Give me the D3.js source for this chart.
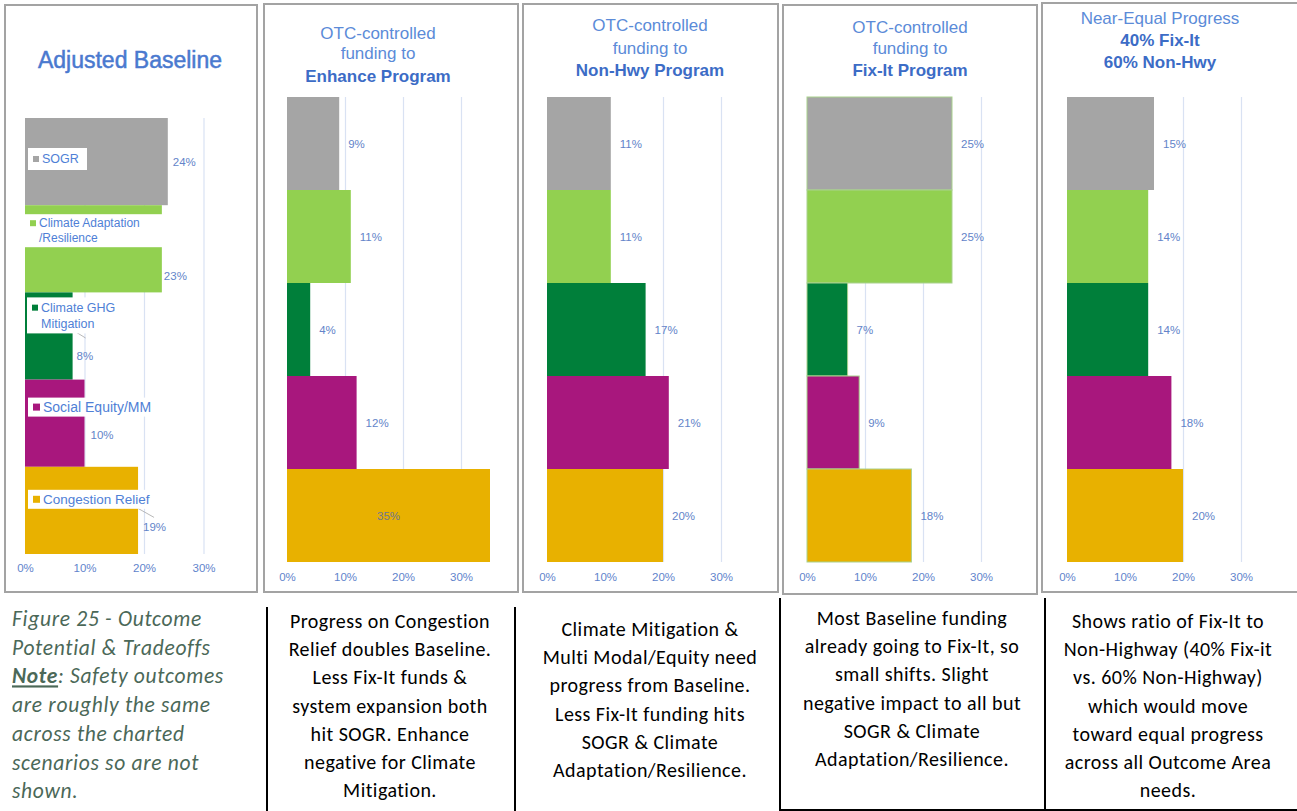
<!DOCTYPE html>
<html>
<head>
<meta charset="utf-8">
<script src="https://cdn.jsdelivr.net/npm/d3@7"></script>
<style>
  html, body { margin: 0; padding: 0; background: #ffffff; }
  svg { display: block; }
  .chart-text { font-family: "Liberation Sans", Arial, sans-serif; }
  .note-text { font-family: Carlito, Lato, "Open Sans", sans-serif; }
</style>
</head>
<body>
<svg id="chart" width="1297" height="811"></svg>
<script>
// ---- Outcome areas and scenario values (percent of progress) ----
const categories = ["SOGR", "Climate Adaptation/Resilience", "Climate GHG Mitigation", "Social Equity/MM", "Congestion Relief"];
const categoryColors = ["#a5a5a5", "#92d050", "#007f3a", "#a8177d", "#e8b100"];
const legendLines = [["SOGR"], ["Climate Adaptation", "/Resilience"], ["Climate GHG", "Mitigation"], ["Social Equity/MM"], ["Congestion Relief"]];

const baselineValues  = [24, 23, 8, 10, 19];
const enhanceValues   = [9, 11, 4, 12, 35];
const nonHwyValues    = [11, 11, 17, 21, 20];
const fixItValues     = [25, 25, 7, 9, 18];
const nearEqualValues = [15, 14, 14, 18, 20];

const tickValues = [0, 10, 20, 30];
const tickLabels = ["0%", "10%", "20%", "30%"];

const titleBaseline  = [{ text: "Adjusted Baseline", bold: false, big: true }];
const titleEnhance   = [{ text: "OTC-controlled" }, { text: "funding to" }, { text: "Enhance Program", bold: true }];
const titleNonHwy    = [{ text: "OTC-controlled" }, { text: "funding to" }, { text: "Non-Hwy Program", bold: true }];
const titleFixIt     = [{ text: "OTC-controlled" }, { text: "funding to" }, { text: "Fix-It Program", bold: true }];
const titleNearEqual = [{ text: "Near-Equal Progress" }, { text: "40% Fix-It", bold: true }, { text: "60% Non-Hwy", bold: true }];

// ---- Commentary under the charts ----
const captionLines = [
  [{ t: "Figure 25 - Outcome" }],
  [{ t: "Potential & Tradeoffs" }],
  [{ t: "Note", b: true, u: true }, { t: ": Safety outcomes" }],
  [{ t: "are roughly the same" }],
  [{ t: "across the charted" }],
  [{ t: "scenarios so are not" }],
  [{ t: "shown." }]
];
const noteEnhance = ["Progress on Congestion", "Relief doubles Baseline.", "Less Fix-It funds &", "system expansion both", "hit SOGR. Enhance", "negative for Climate", "Mitigation."];
const noteNonHwy = ["Climate Mitigation &", "Multi Modal/Equity need", "progress from Baseline.", "Less Fix-It funding hits", "SOGR & Climate", "Adaptation/Resilience."];
const noteFixIt = ["Most Baseline funding", "already going to Fix-It, so", "small shifts. Slight", "negative impact to all but", "SOGR & Climate", "Adaptation/Resilience."];
const noteNearEqual = ["Shows ratio of Fix-It to", "Non-Highway (40% Fix-it", "vs. 60% Non-Highway)", "which would move", "toward equal progress", "across all Outcome Area", "needs."];

// ---- Layout ----
const TITLE_LIGHT = "#5b8bd8";
const TITLE_DARK = "#3c6cc6";
const AXIS_BLUE = "#5f84cc";

const panels = [
  { values: baselineValues, title: titleBaseline, frame: [5, 5, 252, 587], x0: 25, pxPerPct: 5.95,
    yTop: 118, yBot: 554, tickY: 568, titleX: 130, titleY: [68], legend: true },
  { values: enhanceValues, title: titleEnhance, frame: [264, 4, 254, 588], x0: 287, pxPerPct: 5.8,
    yTop: 97, yBot: 562, tickY: 577, titleX: 378, titleY: [39, 59, 82] },
  { values: nonHwyValues, title: titleNonHwy, frame: [523, 4, 255, 588], x0: 547, pxPerPct: 5.8,
    yTop: 97, yBot: 562, tickY: 577, titleX: 650, titleY: [31, 54, 76] },
  { values: fixItValues, title: titleFixIt, frame: [783, 5, 254, 589], x0: 807, pxPerPct: 5.8,
    yTop: 97, yBot: 562, tickY: 577, titleX: 910, titleY: [33, 54, 76], outline: "#a9d18e" },
  { values: nearEqualValues, title: titleNearEqual, frame: [1042, 3, 262, 589], x0: 1067, pxPerPct: 5.8,
    yTop: 97, yBot: 562, tickY: 577, titleX: 1160, titleY: [24, 46, 68] }
];

// Label placement in the baseline panel (offsets from bar end / band centre)
const baselineLabelOffsets = [[5, 0], [2, 27], [4, 20], [6, 12], [5, 17]];
const baselineLeaders = [null, null, [[0, -6], [13, 2]], null, [[0, -2], [16, 7]]];
const baselineLegendBoxes = [
  { dx: 3, dy: 30, w: 59, h: 22, fs: 12.5 },
  { dx: 0, dy: 9, w: 138, h: 33, fs: 12 },
  { dx: 2, dy: 5, w: 95, h: 36, fs: 12.5 },
  { dx: 3, dy: 18, w: 136, h: 19, fs: 14 },
  { dx: 3, dy: 23, w: 130, h: 19, fs: 13.5 }
];

const svg = d3.select("#chart");
svg.append("rect").attr("width", 1297).attr("height", 811).attr("fill", "#ffffff");

panels.forEach(p => drawPanel(p));

function drawPanel(p) {
  const g = svg.append("g").attr("class", "chart-text");
  const [fx, fy, fw, fh] = p.frame;

  g.append("rect")
    .attr("x", fx).attr("y", fy).attr("width", fw).attr("height", fh)
    .attr("fill", "#ffffff").attr("stroke", "#a3a3a3").attr("stroke-width", 2);

  const x = d3.scaleLinear().domain([0, 35]).range([p.x0, p.x0 + 35 * p.pxPerPct]);
  const y = d3.scaleBand().domain(categories).range([p.yTop, p.yBot]).padding(0);

  // titles
  p.title.forEach((t, i) => {
    g.append("text")
      .attr("x", p.titleX).attr("y", p.titleY[i])
      .attr("text-anchor", "middle")
      .attr("font-size", t.big ? 23 : 17)
      .attr("font-weight", t.bold ? "bold" : "normal")
      .attr("fill", t.bold ? TITLE_DARK : (t.big ? "#4a79cf" : TITLE_LIGHT))
      .attr("stroke", t.big ? "#4a79cf" : "none").attr("stroke-width", t.big ? 0.5 : 0)
      .text(t.text);
  });

  // vertical gridlines
  g.append("g")
    .attr("transform", `translate(0,${p.yBot})`)
    .call(d3.axisBottom(x).tickValues(tickValues.slice(1)).tickSize(-(p.yBot - p.yTop)).tickFormat(""))
    .call(a => a.select(".domain").remove())
    .call(a => a.selectAll("line").attr("stroke", "#d9e2f3").attr("stroke-width", 1.2));

  // tick labels
  g.append("g")
    .attr("transform", `translate(0,${p.tickY})`)
    .call(d3.axisBottom(x).tickValues(tickValues).tickSize(0).tickFormat((d, i) => tickLabels[i]))
    .call(a => a.select(".domain").remove())
    .call(a => a.selectAll("text")
      .attr("font-family", "\"Liberation Sans\", Arial, sans-serif")
      .attr("font-size", 11.5).attr("fill", AXIS_BLUE).attr("dy", "0.35em").attr("y", 0));

  // bars
  g.append("g").selectAll("rect")
    .data(p.values)
    .join("rect")
    .attr("x", x(0))
    .attr("y", (d, i) => y(categories[i]))
    .attr("width", d => x(d) - x(0))
    .attr("height", y.bandwidth())
    .attr("fill", (d, i) => categoryColors[i])
    .attr("stroke", p.outline || "none")
    .attr("stroke-width", p.outline ? 1 : 0);

  // value labels
  const labels = g.append("g");
  p.values.forEach((v, i) => {
    const cy = y(categories[i]) + y.bandwidth() / 2;
    let lx, ly, anchor = "start", fill = "#6384c9";
    if (p.legend) {
      lx = x(v) + baselineLabelOffsets[i][0];
      ly = cy + baselineLabelOffsets[i][1];
      const leader = baselineLeaders[i];
      if (leader) {
        labels.append("line")
          .attr("x1", x(v) + leader[0][0]).attr("y1", cy + leader[0][1])
          .attr("x2", x(v) + leader[1][0]).attr("y2", cy + leader[1][1])
          .attr("stroke", "#a6a6a6").attr("stroke-width", 0.8);
      }
    } else if (x(v) + 30 > x(35)) {
      lx = (x(0) + x(v)) / 2; ly = cy; anchor = "middle"; fill = "#6d7690";
    } else {
      lx = x(v) + 9; ly = cy;
    }
    labels.append("text")
      .attr("x", lx).attr("y", ly).attr("dy", "0.35em")
      .attr("text-anchor", anchor)
      .attr("font-size", 11.5).attr("fill", fill)
      .text(v + "%");
  });

  // in-chart legend entries for the baseline panel
  if (p.legend) {
    const lg = g.append("g");
    baselineLegendBoxes.forEach((b, i) => {
      const bx = x(0) + b.dx, by = y(categories[i]) + b.dy;
      lg.append("rect").attr("x", bx).attr("y", by).attr("width", b.w).attr("height", b.h).attr("fill", "#ffffff");
      const lines = legendLines[i];
      const lh = b.fs + 3;
      const startY = by + b.h / 2 - (lines.length - 1) * lh / 2;
      const sq = b.fs >= 13.5 ? 7 : 6;
      lg.append("rect")
        .attr("x", bx + 5).attr("y", startY - sq / 2).attr("width", sq).attr("height", sq)
        .attr("fill", categoryColors[i]);
      lines.forEach((ln, k) => {
        lg.append("text")
          .attr("x", bx + 8 + sq).attr("y", startY + k * lh).attr("dy", "0.35em")
          .attr("font-size", b.fs).attr("fill", "#4f7fd6")
          .text(ln);
      });
    });
  }
}

// ---- Commentary row ----
const notes = svg.append("g").attr("class", "note-text");

const cap = notes.append("text").attr("font-size", 21.5).attr("letter-spacing", 0.7)
  .attr("font-style", "italic").attr("fill", "#4b6858");
captionLines.forEach((segs, i) => {
  const line = cap.append("tspan").attr("x", 12).attr("y", 626 + i * 28.7);
  segs.forEach((s, k) => {
    const ts = k === 0 ? line : cap.append("tspan");
    ts.text(s.t);
    if (s.b) ts.attr("font-weight", "bold");
    if (s.u) ts.attr("text-decoration", "underline");
  });
});

const noteBlocks = [
  { lines: noteEnhance, cx: 390, y0: 628 },
  { lines: noteNonHwy, cx: 650, y0: 636 },
  { lines: noteFixIt, cx: 912, y0: 625 },
  { lines: noteNearEqual, cx: 1168, y0: 628 }
];
noteBlocks.forEach(nb => {
  notes.append("g").selectAll("text")
    .data(nb.lines)
    .join("text")
    .attr("x", nb.cx).attr("y", (d, i) => nb.y0 + i * 28.2)
    .attr("text-anchor", "middle")
    .attr("font-size", 20).attr("letter-spacing", 0.45).attr("fill", "#000000")
    .text(d => d);
});

// column dividers
const dividers = [
  [267, 607, 267, 811], [515, 607, 515, 811], [780, 598, 780, 811], [1045, 598, 1045, 811], [780, 810, 1297, 810]
];
notes.append("g").selectAll("line")
  .data(dividers)
  .join("line")
  .attr("x1", d => d[0]).attr("y1", d => d[1]).attr("x2", d => d[2]).attr("y2", d => d[3])
  .attr("stroke", "#000000").attr("stroke-width", 2);
</script>
</body>
</html>
